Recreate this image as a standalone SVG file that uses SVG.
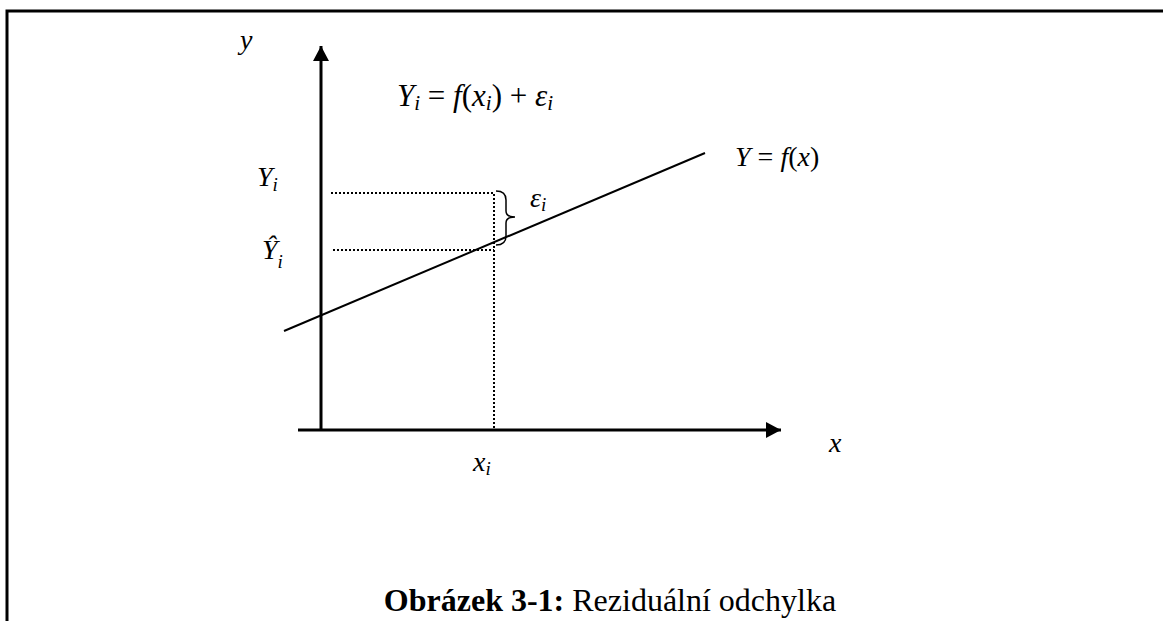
<svg xmlns="http://www.w3.org/2000/svg" width="1163" height="621" viewBox="0 0 1163 621">
<style>
.m{font-family:"Liberation Serif","Times New Roman",serif;font-style:italic;font-size:28px;fill:#000}
.sub{font-size:19px}
.big{font-size:31px}
.big .sub{font-size:21px}
.up{font-style:normal}
.ax{stroke:#000;stroke-width:3;fill:none}
.dot{stroke:#000;stroke-width:2;stroke-dasharray:2 2;fill:none}
.cap{font-family:"Liberation Serif","Times New Roman",serif;font-size:32px;fill:#000}
</style>
<defs>
<marker id="arr" markerUnits="userSpaceOnUse" markerWidth="16" markerHeight="16" refX="15" refY="8" orient="auto">
<path d="M0,0 L15,8 L0,16 Z" fill="#000"/>
</marker>
</defs>
<rect width="1163" height="621" fill="#fff"/>
<g id="frame">
<path d="M7,621 V11 H1163" stroke="#000" stroke-width="3" fill="none"/>
</g>
<g id="connectors">
<line class="ax" x1="321" y1="430" x2="321" y2="46" marker-end="url(#arr)"/>
<line class="ax" x1="298" y1="430" x2="781" y2="430" marker-end="url(#arr)"/>
<line x1="284" y1="331" x2="705" y2="153" stroke="#000" stroke-width="2"/>
<path class="dot" d="M331,193 H494 V430"/>
<path class="dot" d="M333,250 H494"/>
<path d="M496,191 Q506,191 506,200 V211 Q506,217 515,217 Q506,217 506,223 V236 Q506,245 496,245" stroke="#000" stroke-width="1.5" fill="none"/>
</g>
<g id="labels">
<text class="m" x="240" y="49">y</text>
<text class="m big" x="397" y="106">Y<tspan class="sub" dy="4">i</tspan><tspan class="up" dy="-4"> = </tspan>f<tspan class="up">(</tspan>x<tspan class="sub" dy="4">i</tspan><tspan class="up" dy="-4">) + </tspan>ε<tspan class="sub" dy="4">i</tspan></text>
<text class="m" x="735" y="166">Y<tspan class="up"> = </tspan>f<tspan class="up">(</tspan>x<tspan class="up">)</tspan></text>
<text class="m" x="257" y="186">Y<tspan class="sub" dy="5">i</tspan></text>
<text class="m" x="530" y="207">ε<tspan class="sub" dy="4">i</tspan></text>
<text class="m" x="262" y="259">Ŷ<tspan class="sub" dy="9">i</tspan></text>
<text class="m" x="829" y="452">x</text>
<text class="m" x="473" y="471">x<tspan class="sub" dy="4">i</tspan></text>
</g>
<g id="caption">
<text class="cap" x="610" y="611" text-anchor="middle"><tspan font-weight="bold">Obrázek 3-1:</tspan> Reziduální odchylka</text>
</g>
</svg>
